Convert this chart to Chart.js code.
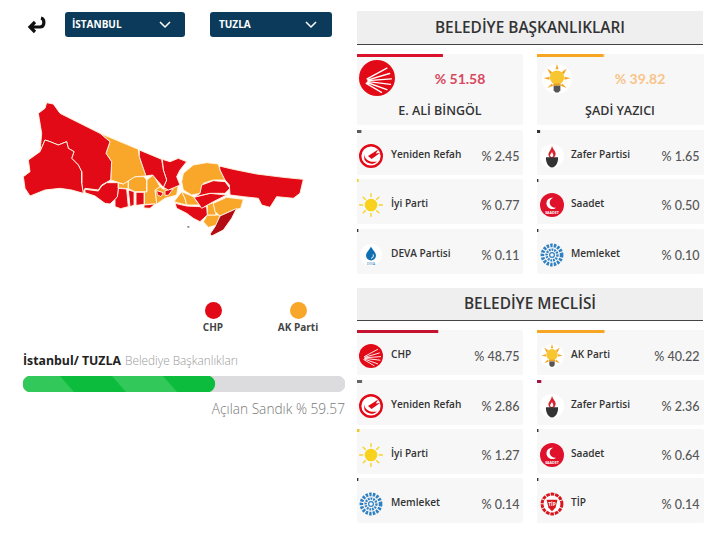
<!DOCTYPE html>
<html>
<head>
<meta charset="utf-8">
<script src="https://cdn.jsdelivr.net/npm/chart.js@4"></script>
<style>
  html, body { margin: 0; padding: 0; background: #fff; }
  body { position: relative; width: 714px; height: 546px; overflow: hidden; font-family: "Open Sans", sans-serif; }
  .abs { position: absolute; white-space: nowrap; }
  .mid { transform: translateY(-50%); }
  .ctr { transform: translate(-50%, -50%); }
  .rgt { transform: translate(-100%, -50%); }
  canvas { position: absolute; display: block; }
  svg { position: absolute; overflow: visible; }
</style>
</head>
<body>
<script>
// values
const mayorParties = ['CHP', 'AK Parti', 'Yeniden Refah', 'Zafer Partisi', 'İyi Parti', 'Saadet', 'DEVA Partisi', 'Memleket'];
const mayorValues = [51.58, 39.82, 2.45, 1.65, 0.77, 0.50, 0.11, 0.10];
const mayorColors = ['#d9112a', '#f6a623', '#5a5a5a', '#333333', '#e8d820', '#333333', '#333333', '#333333'];
const mayorCandidates = ['E. ALİ BİNGÖL', 'ŞADİ YAZICI'];

const councilParties = ['CHP', 'AK Parti', 'Yeniden Refah', 'Zafer Partisi', 'İyi Parti', 'Saadet', 'Memleket', 'TİP'];
const councilValues = [48.75, 40.22, 2.86, 2.36, 1.27, 0.64, 0.14, 0.14];
const councilColors = ['#c4122f', '#f6a623', '#666666', '#a0164a', '#f2c81e', '#333333', '#333333', '#333333'];

const openedLabel = ['Açılan Sandık'];
const openedBoxes = [59.57];
const allBoxes = [100];

const legendParties = ['CHP', 'AK Parti'];
const legendColors = ['#e30a17', '#f9a72b'];

// district outlines, in map units
const silivri = [[135,150],[150,155],[175,165],[200,155],[205,175],[222,185],[215,205],[235,225],[245,245],[245,280],[250,310],[215,300],[180,295],[135,300],[90,318],[75,295],[70,260],[90,245],[85,210],[120,185]];
const catalca = [[140,38],[160,42],[180,70],[240,100],[300,130],[330,155],[318,190],[335,215],[332,270],[305,285],[295,300],[255,295],[250,310],[245,280],[245,245],[235,225],[215,205],[222,185],[205,175],[200,155],[175,165],[150,155],[135,150],[120,185],[125,130],[115,70],[135,55]];
const buyukcekmece = [[255,298],[295,303],[305,288],[320,278],[355,278],[355,295],[352,320],[345,328],[330,342],[315,340],[285,318],[255,308]];
const avcilar = [[355,295],[380,297],[385,350],[362,356],[345,350],[345,328],[352,320]];
const kucukcekmece = [[385,300],[403,305],[403,345],[390,350]];
const bakirkoy = [[408,307],[433,307],[433,343],[410,346]];
const zeytinburnu = [[432,345],[465,342],[450,355],[432,354]];
const sariyer = [[418,180],[485,208],[490,240],[500,270],[490,292],[475,275],[458,255],[438,258],[430,235],[418,200]];
const beykozW = [[487,208],[510,215],[535,205],[560,215],[540,240],[530,260],[540,285],[505,300],[490,292],[500,270],[490,240]];
const kagithane = [[470,302],[490,308],[483,320],[472,314]];
const beyoglu = [[495,302],[520,296],[505,316],[495,316]];
const arnavutkoy = [[300,130],[415,178],[418,200],[430,235],[438,258],[405,260],[370,282],[332,270],[335,215],[318,190],[330,155]];
const esenyurt = [[355,278],[370,282],[385,272],[385,296],[355,294]];
const basaksehir = [[385,272],[405,260],[432,260],[440,270],[440,305],[405,305],[385,296]];
const gaziosmanpasa = [[440,270],[460,255],[480,290],[465,300],[470,342],[434,343],[433,307],[440,305]];
const fatih = [[480,290],[490,298],[535,285],[530,315],[495,325],[470,342],[465,300]];
const beykozE = [[550,250],[580,225],[620,218],[655,222],[660,240],[675,270],[640,270],[610,280],[600,310],[575,315],[550,300],[545,275]];
const sile = [[658,228],[700,238],[770,252],[850,262],[910,268],[900,310],[880,325],[830,320],[810,352],[785,345],[775,325],[730,320],[690,315],[688,285],[675,270],[660,240]];
const umraniye = [[605,285],[640,272],[675,275],[690,295],[675,310],[630,310],[585,320],[600,310]];
const sancaktepe = [[582,322],[630,310],[680,315],[640,335],[605,355],[595,340]];
const kadikoy = [[545,305],[580,320],[598,345],[560,345],[555,325]];
const uskudar = [[522,335],[545,305],[555,325],[560,345],[532,338]];
const kartal = [[640,340],[680,322],[730,328],[722,355],[700,360],[660,378],[645,365]];
const maltepe = [[622,345],[640,338],[648,375],[622,375]];
const atasehir = [[525,340],[560,348],[600,350],[620,350],[622,375],[600,395],[580,385],[560,370],[530,355]];
const pendik = [[622,375],[660,375],[650,405],[625,412],[610,395]];
const tuzla = [[710,355],[695,385],[670,420],[635,438],[630,432],[645,410],[660,378],[700,360]];
const island = [[562,408],[568,408],[568,413],[562,413]];

const chpDistricts = [silivri, catalca, buyukcekmece, avcilar, kucukcekmece, bakirkoy, zeytinburnu, sariyer, beykozW, kagithane, beyoglu, sile, umraniye, sancaktepe, atasehir];
const akpDistricts = [arnavutkoy, esenyurt, basaksehir, gaziosmanpasa, fatih, beykozE, kadikoy, uskudar, kartal, maltepe, pendik];
const selectedDistricts = [tuzla];

function put(html, cls, x, y, css) {
  const el = document.createElement('div');
  el.className = 'abs ' + cls;
  el.style.left = x + 'px';
  el.style.top = y + 'px';
  el.style.cssText += css || '';
  el.innerHTML = html;
  document.body.appendChild(el);
  return el;
}

function addCanvas(x, y, w, h) {
  const c = document.createElement('canvas');
  c.width = w;
  c.height = h;
  c.style.left = x + 'px';
  c.style.top = y + 'px';
  c.style.width = w + 'px';
  c.style.height = h + 'px';
  document.body.appendChild(c);
  return c;
}

// the little bar on top of each card, 0-100 across the card
function shareBar(x, y, w, label, value, color) {
  new Chart(addCanvas(x, y, w, 3), {
    type: 'bar',
    data: { labels: [label], datasets: [{ data: [value], backgroundColor: color, minBarLength: 1, barPercentage: 1, categoryPercentage: 1 }] },
    options: {
      indexAxis: 'y', responsive: false, animation: false,
      plugins: { legend: { display: false }, tooltip: { enabled: false } },
      scales: { x: { display: false, min: 0, max: 100 }, y: { display: false } }
    }
  });
}

// logos
const whiteDisc = '<circle cx="20" cy="20" r="20" fill="#fff"/>';
const logos = {
  'CHP': '<circle cx="20" cy="20" r="20" fill="#e30a17"/><g stroke="#fff" stroke-width="1.500" stroke-linecap="round"><path d="M9 21L31 9M10 22L34 15M10 23L36 21M10 24L35 27M9 25L31 33M8 26L25 36"/></g>',
  'AK Parti': whiteDisc + '<g fill="#f6a623"><path d="M20 0l2 7h-4zM2 19l8-2v4zM38 19l-8-2v4zM7 6l7 5-3 3zM33 6l-7 5 3 3zM7 32l6-6 2 3zM33 32l-6-6-2 3z"/></g><circle cx="20" cy="18" r="9.500" fill="#f8c630"/><path d="M15 26h10v3h-10z" fill="#e8a020"/><path d="M15.500 29h9v6l-2.500 3h-4l-2.500-3z" fill="#555"/>',
  'Yeniden Refah': '<circle cx="20" cy="20" r="18" fill="#fff" stroke="#e30a17" stroke-width="4"/><path d="M8 15c1 11 10 17 22 14-6 6-17 5-21-3zM15 20l17-11-4 7 7-1-14 10z" fill="#e30a17"/>',
  'Zafer Partisi': whiteDisc + '<path d="M20 3c1 6 7 9 6 15-1 4-4 6-6 6s-6-2-6-6c0-5 5-8 6-15z" fill="#d9232e"/><path d="M20 12c0 4 3 5 2 8-1 2-4 2-5 0-1-3 3-4 3-8z" fill="#fff"/><path d="M10 22h20c1 8-4 17-10 17S9 30 10 22z" fill="#333"/>',
  'İyi Parti': '<g stroke="#f6d32d" stroke-width="2.400" stroke-linecap="round"><path d="M20 1v5M20 34v5M1 20h5M34 20h5M7 7l3.500 3.500M33 7l-3.500 3.500M7 33l3.500-3.500M33 33l-3.500-3.500"/></g><circle cx="20" cy="20" r="10.500" fill="#f8d21c"/>',
  'Saadet': '<circle cx="20" cy="20" r="20" fill="#e0112b"/><path d="M22 8a9.500 9.500 0 1 0 5 16a8 8 0 1 1-5-16z" fill="#fff"/><text x="20" y="35" font-size="6" font-weight="700" fill="#fff" text-anchor="middle" font-family="Open Sans">SAADET</text>',
  'DEVA Partisi': whiteDisc + '<path d="M20 5c4 7 9 11 9 16a9 9 0 0 1-18 0c0-5 5-9 9-16z" fill="#0f6fb0"/><path d="M24 19c1 4-1 7-4 7" stroke="#fff" stroke-width="1.800" fill="none"/><text x="20" y="38" font-size="6" fill="#0f6fb0" text-anchor="middle" font-family="Open Sans">DEVA</text>',
  'Memleket': '<circle cx="20" cy="20" r="16" fill="none" stroke="#2f80c2" stroke-width="6" stroke-dasharray="4 2"/><circle cx="20" cy="20" r="9" fill="none" stroke="#2f80c2" stroke-width="4" stroke-dasharray="3 1.500"/><circle cx="20" cy="20" r="4" fill="none" stroke="#2f80c2" stroke-width="2"/>',
  'TİP': '<circle cx="20" cy="20" r="16.500" fill="#fff" stroke="#d9161e" stroke-width="5" stroke-dasharray="6 1.500"/><path d="M11 13h18l-3 13-6 6-6-6z" fill="#d9161e"/><text x="20" y="23" font-size="8" font-weight="700" fill="#fff" text-anchor="middle" font-family="Open Sans">TİP</text>'
};

function logo(name, cx, cy, size) {
  put('<svg width="' + size + '" height="' + size + '" viewBox="0 0 40 40" style="left:0;top:0">' + logos[name] + '</svg>', '', cx - size / 2, cy - size / 2);
}

function panelBox(x, y, w, h) {
  put('', '', x, y, 'width:' + w + 'px;height:' + h + 'px;background:#f7f7f7;border-radius:2px;');
}

function sectionHeader(text, y, h) {
  put('', '', 356.5, y, 'width:346.5px;height:' + h + 'px;background:#efefef;border-bottom:1.5px solid #444;');
  put(text, 'ctr', 530, y + h / 2 - 1, 'font:600 15.400px "Open Sans";color:#333;');
}

const colX = [356.5, 537];
const cardW = 166.5;
const logoX = [371, 552];
const nameX = [391, 571];
const valueX = [519.5, 699.5];

function smallCard(name, value, color, col, top) {
  panelBox(colX[col], top, cardW, 45);
  shareBar(colX[col], top, cardW, name, value, color);
  logo(name, logoX[col], top + 26, name === 'DEVA Partisi' ? 22 : 24);
  put(name, 'mid', nameX[col], top + 24, 'font:600 10.100px "Open Sans";color:#333;');
  put('% ' + value.toFixed(2), 'rgt', valueX[col], top + 26, 'font:500 12.500px Lato;color:#555;');
}

// header: back arrow and the two dropdowns
put('<svg width="20" height="18" viewBox="0 0 20 18" style="left:0;top:0"><path d="M14 2c4 1 4 9-1 9H4M8 6l-5 5 5 5" fill="none" stroke="#111" stroke-width="3.200"/></svg>', '', 27, 16);
[['İSTANBUL', 64.5, 120.5, 72, 165], ['TUZLA', 210, 122, 219, 311]].forEach(([label, x, w, tx, cx]) => {
  put('', '', x, 12, 'width:' + w + 'px;height:25px;background:#0b3a5b;border-radius:3px;');
  put(label, 'mid', tx, 24, 'font:700 10px "Open Sans";color:#fff;');
  put('<svg width="12" height="8" viewBox="0 0 12 8" style="left:0;top:0"><path d="M1 1l5 5 5-5" fill="none" stroke="#fff" stroke-width="1.500"/></svg>', '', cx - 6, 21);
});

// map
function districtSet(list, fillColor, lineWidth) {
  return list.map(points => ({
    data: points.concat([points[0]]).map(p => ({ x: p[0], y: p[1] })),
    showLine: true, fill: 'shape', tension: 0, pointRadius: 0,
    backgroundColor: fillColor, borderColor: 'rgba(255,244,225,0.95)', borderWidth: lineWidth
  }));
}
new Chart(addCanvas(0, 90, 320, 160), {
  type: 'scatter',
  data: { datasets: [
    ...districtSet(selectedDistricts, '#b30c14', 1),
    ...districtSet(chpDistricts, '#e30a17', 1),
    ...districtSet(akpDistricts, legendColors[1], 1),
    ...districtSet([island], '#888888', 0)
  ] },
  options: {
    responsive: false, animation: false,
    plugins: { legend: { display: false }, tooltip: { enabled: false } },
    scales: { x: { display: false, min: 0, max: 960 }, y: { display: false, min: 0, max: 480, reverse: true } }
  }
});

// map legend
legendParties.forEach((name, i) => {
  const x = [213, 298][i];
  put('', '', x - 8.5, 301.5, 'width:17px;height:17px;border-radius:50%;background:' + legendColors[i] + ';');
  put(name, 'ctr', x, 326.5, 'font:700 10px "Open Sans";color:#444;');
});

// progress
put('<span style="font:700 12.300px \'Open Sans\';color:#222;">İstanbul/ TUZLA</span> <span style="font:300 11.800px \'Open Sans\';color:#999;">Belediye Başkanlıkları</span>', 'mid', 23, 359);

const progressCanvas = addCanvas(23, 376, 322, 16);
const stripe = document.createElement('canvas');
stripe.width = 103;
stripe.height = 16;
const sctx = stripe.getContext('2d');
sctx.fillStyle = '#33c95a';
sctx.fillRect(0, 0, 103, 16);
sctx.fillStyle = '#0cbc3c';
sctx.beginPath();
sctx.moveTo(37, 0); sctx.lineTo(89, 0); sctx.lineTo(103, 16); sctx.lineTo(51, 16);
sctx.fill();
new Chart(progressCanvas, {
  type: 'bar',
  data: {
    labels: openedLabel,
    datasets: [
      { data: openedBoxes, backgroundColor: progressCanvas.getContext('2d').createPattern(stripe, 'repeat'), borderRadius: 8, borderSkipped: false, barPercentage: 1, categoryPercentage: 1, grouped: false },
      { data: allBoxes, backgroundColor: '#dcdcdf', borderRadius: 8, borderSkipped: false, barPercentage: 1, categoryPercentage: 1, grouped: false }
    ]
  },
  options: {
    indexAxis: 'y', responsive: false, animation: false,
    plugins: { legend: { display: false }, tooltip: { enabled: false } },
    scales: { x: { display: false, min: 0, max: 100 }, y: { display: false } }
  }
});
put(openedLabel[0] + ' % ' + openedBoxes[0], 'rgt', 345, 408, 'font:300 13.700px "Open Sans";color:#777;');

// mayor block
sectionHeader('BELEDİYE BAŞKANLIKLARI', 11, 33);
[0, 1].forEach(col => {
  panelBox(colX[col], 53.5, cardW, 71);
  shareBar(colX[col], 53.5, cardW, mayorParties[col], mayorValues[col], mayorColors[col]);
});
logo('CHP', 377, 78, 36);
logo('AK Parti', 557, 79, 30);
put('% ' + mayorValues[0].toFixed(2), 'ctr', 460, 78, 'font:700 14px Lato;color:#d8485e;');
put('% ' + mayorValues[1].toFixed(2), 'ctr', 640, 78, 'font:700 14px Lato;color:#f8c48a;');
put(mayorCandidates[0], 'ctr', 440, 110, 'font:600 12.500px "Open Sans";color:#333;');
put(mayorCandidates[1], 'ctr', 620, 110, 'font:600 12.500px "Open Sans";color:#333;');
[130, 179, 229].forEach((top, r) => {
  [0, 1].forEach(col => {
    const i = 2 + r * 2 + col;
    smallCard(mayorParties[i], mayorValues[i], mayorColors[i], col, top);
  });
});

// council block
sectionHeader('BELEDİYE MECLİSİ', 288, 32);
[330, 380, 429, 478].forEach((top, r) => {
  [0, 1].forEach(col => {
    const i = r * 2 + col;
    smallCard(councilParties[i], councilValues[i], councilColors[i], col, top);
  });
});
</script>
</body>
</html>
